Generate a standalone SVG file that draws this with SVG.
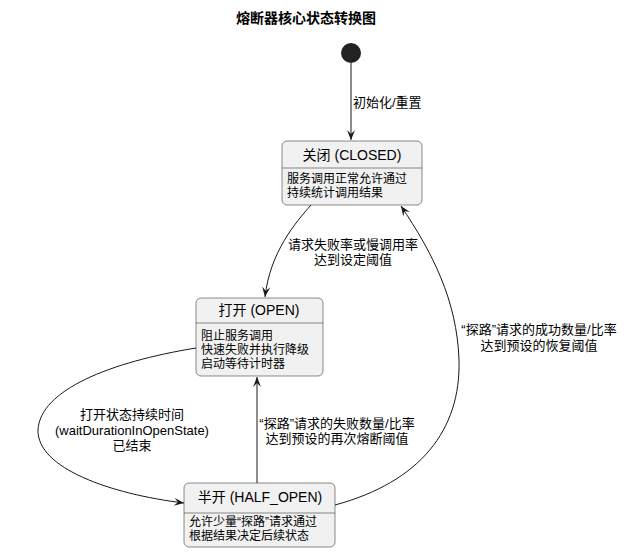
<svg xmlns="http://www.w3.org/2000/svg" width="626" height="552" viewBox="0 0 626 552">
<defs>
<style>
text{font-family:"Liberation Sans","Noto Sans CJK SC",sans-serif;fill:#000}
.title{font-size:14px;font-weight:bold}
.sn{font-size:14px;text-anchor:middle}
.body{font-size:12px}
.lbl{font-size:13px}
.mid{text-anchor:middle}
.box{fill:#F1F1F1;stroke:#181818;stroke-width:0.5}
.div{stroke:#181818;stroke-width:0.5}
.edge{fill:none;stroke:#181818;stroke-width:1;marker-end:url(#arr)}
</style>
<marker id="arr" markerUnits="userSpaceOnUse" markerWidth="12" markerHeight="10" refX="10" refY="4" orient="auto">
<path d="M0,0 L10,4 L0,8 L4,4 Z" fill="#181818"/>
</marker>
</defs>
<rect width="626" height="552" fill="#FFFFFF"/>
<text class="title" x="306" y="23" text-anchor="middle">熔断器核心状态转换图</text>

<g id="start">
<circle cx="351" cy="53" r="10" fill="#222222"/>
</g>

<g id="closed">
<rect class="box" x="282" y="141" width="140" height="64" rx="5"/>
<line class="div" x1="282" y1="168" x2="422" y2="168"/>
<text class="sn" x="352" y="160">关闭 (CLOSED)</text>
<text class="body" x="287" y="183">服务调用正常允许通过</text>
<text class="body" x="287" y="197">持续统计调用结果</text>
</g>

<g id="open">
<rect class="box" x="196" y="298" width="127" height="78" rx="5"/>
<line class="div" x1="196" y1="323" x2="323" y2="323"/>
<text class="sn" x="259" y="315">打开 (OPEN)</text>
<text class="body" x="201" y="340">阻止服务调用</text>
<text class="body" x="201" y="354">快速失败并执行降级</text>
<text class="body" x="201" y="368">启动等待计时器</text>
</g>

<g id="half_open">
<rect class="box" x="184" y="483" width="151" height="64" rx="5"/>
<line class="div" x1="184" y1="513" x2="335" y2="513"/>
<text class="sn" x="260" y="502">半开 (HALF_OPEN)</text>
<text class="body" x="189" y="526">允许少量“探路”请求通过</text>
<text class="body" x="189" y="540">根据结果决定后续状态</text>
</g>

<g id="connectors">
<path class="edge" d="M351,63 L351,140"/>
<text class="lbl" x="353" y="107">初始化/重置</text>

<path class="edge" d="M311,205 C296,222 270,252 265,297"/>
<text class="lbl mid" x="353" y="249">请求失败率或慢调用率</text>
<text class="lbl mid" x="353" y="264">达到设定阈值</text>

<path class="edge" d="M196,348 C110,362 40,390 38,430 C37,468 110,494 184,503"/>
<text class="lbl mid" x="132" y="419">打开状态持续时间</text>
<text class="lbl mid" x="132" y="435">(waitDurationInOpenState)</text>
<text class="lbl mid" x="132" y="450">已结束</text>

<path class="edge" d="M257,483 L257,377"/>
<text class="lbl mid" x="337" y="428">“探路”请求的失败数量/比率</text>
<text class="lbl mid" x="337" y="443">达到预设的再次熔断阈值</text>

<path class="edge" d="M335,505 C420,482 461,430 459,360 C457,300 432,252 401,206"/>
<text class="lbl mid" x="539" y="334">“探路”请求的成功数量/比率</text>
<text class="lbl mid" x="539" y="350">达到预设的恢复阈值</text>
</g>
</svg>
